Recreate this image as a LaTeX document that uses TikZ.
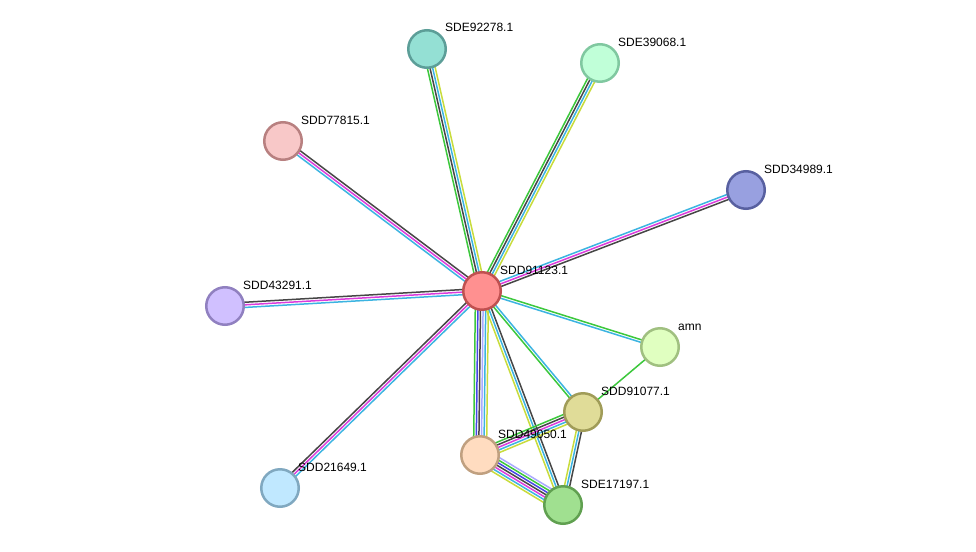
\documentclass[tikz,border=0pt]{standalone}
\usepackage{fontspec}
\setmainfont{Liberation Sans}
\usetikzlibrary{calc,backgrounds}
\definecolor{sgreen}{RGB}{60,200,60}
\definecolor{scyan}{RGB}{60,180,225}
\definecolor{smag}{RGB}{220,60,220}
\definecolor{sdark}{RGB}{70,70,70}
\definecolor{syellow}{RGB}{200,220,60}
\definecolor{sblue}{RGB}{70,70,230}
\definecolor{slav}{RGB}{170,170,255}
\newcommand\medge[4]{%
  \foreach \c [count=\i] in {#4}{%
    \pgfmathsetmacro\off{(\i-(#3+1)/2)*2.6}%
    \draw[\c, edgeline] ($(#1.center)!\off pt!90:(#2.center)$) -- ($(#2.center)!\off pt!-90:(#1.center)$);
  }}
\tikzset{
  prot/.style={circle, minimum size=37.5pt, inner sep=0pt, line width=2.5pt},
  lbl/.style={anchor=base west, inner sep=0pt, font=\fontsize{12}{14}\selectfont},
  edgeline/.style={line width=1.5pt}
}
\begin{document}
\begin{tikzpicture}[x=1pt,y=-1pt]
\useasboundingbox (0,0) rectangle (976,551);
\node[prot, fill={rgb,255:red,255;green,144;blue,144}, draw={rgb,255:red,192;green,80;blue,80}] (c) at (482,291) {};
\node[prot, fill={rgb,255:red,148;green,224;blue,212}, draw={rgb,255:red,92;green,158;blue,152}] (n1) at (427,49) {};
\node[prot, fill={rgb,255:red,192;green,255;blue,216}, draw={rgb,255:red,128;green,200;blue,160}] (n2) at (600,63) {};
\node[prot, fill={rgb,255:red,248;green,200;blue,200}, draw={rgb,255:red,184;green,128;blue,128}] (n3) at (283,141) {};
\node[prot, fill={rgb,255:red,152;green,160;blue,224}, draw={rgb,255:red,88;green,96;blue,160}] (n4) at (746,190) {};
\node[prot, fill={rgb,255:red,208;green,192;blue,255}, draw={rgb,255:red,144;green,128;blue,192}] (n5) at (225,306) {};
\node[prot, fill={rgb,255:red,224;green,255;blue,192}, draw={rgb,255:red,160;green,192;blue,128}] (amn) at (660,347) {};
\node[prot, fill={rgb,255:red,224;green,220;blue,152}, draw={rgb,255:red,160;green,156;blue,88}] (n7) at (583,412) {};
\node[prot, fill={rgb,255:red,255;green,220;blue,192}, draw={rgb,255:red,192;green,160;blue,128}] (n8) at (480,455) {};
\node[prot, fill={rgb,255:red,160;green,224;blue,144}, draw={rgb,255:red,96;green,160;blue,80}] (n9) at (563,505) {};
\node[prot, fill={rgb,255:red,192;green,232;blue,255}, draw={rgb,255:red,128;green,168;blue,192}] (n10) at (280,488) {};
\node[lbl] (lc) at ($(c.center)+(18,-17)$) {SDD91123.1};
\node[lbl] (l1) at ($(n1.center)+(18,-17)$) {SDE92278.1};
\node[lbl] (l2) at ($(n2.center)+(18,-17)$) {SDE39068.1};
\node[lbl] (l3) at ($(n3.center)+(18,-17)$) {SDD77815.1};
\node[lbl] (l4) at ($(n4.center)+(18,-17)$) {SDD34989.1};
\node[lbl] (l5) at ($(n5.center)+(18,-17)$) {SDD43291.1};
\node[lbl] (l6) at ($(amn.center)+(18,-17)$) {amn};
\node[lbl] (l7) at ($(n7.center)+(18,-17)$) {SDD91077.1};
\node[lbl] (l8) at ($(n8.center)+(18,-17)$) {SDD49050.1};
\node[lbl] (l9) at ($(n9.center)+(18,-17)$) {SDE17197.1};
\node[lbl] (l10) at ($(n10.center)+(18,-17)$) {SDD21649.1};
\begin{scope}[on background layer]
\fill[white] (0,0) rectangle (976,551);
\medge{c}{n1}{4}{syellow,scyan,sdark,sgreen}
\medge{c}{n2}{4}{syellow,scyan,sdark,sgreen}
\medge{c}{n3}{3}{sdark,smag,scyan}
\medge{c}{n4}{3}{sdark,smag,scyan}
\medge{c}{n5}{3}{sdark,smag,scyan}
\medge{c}{n10}{3}{sdark,smag,scyan}
\medge{c}{amn}{2}{scyan,sgreen}
\medge{c}{n7}{2}{sgreen,scyan}
\medge{c}{n8}{6}{sgreen,sblue,sdark,slav,scyan,syellow}
\medge{c}{n9}{3}{syellow,scyan,sdark}
\medge{amn}{n7}{1}{sgreen}
\medge{n7}{n8}{5}{sgreen,sdark,smag,scyan,syellow}
\medge{n7}{n9}{3}{syellow,scyan,sdark}
\medge{n8}{n9}{7}{syellow,scyan,smag,sdark,sblue,sgreen,slav}
\end{scope}
\end{tikzpicture}
\end{document}
